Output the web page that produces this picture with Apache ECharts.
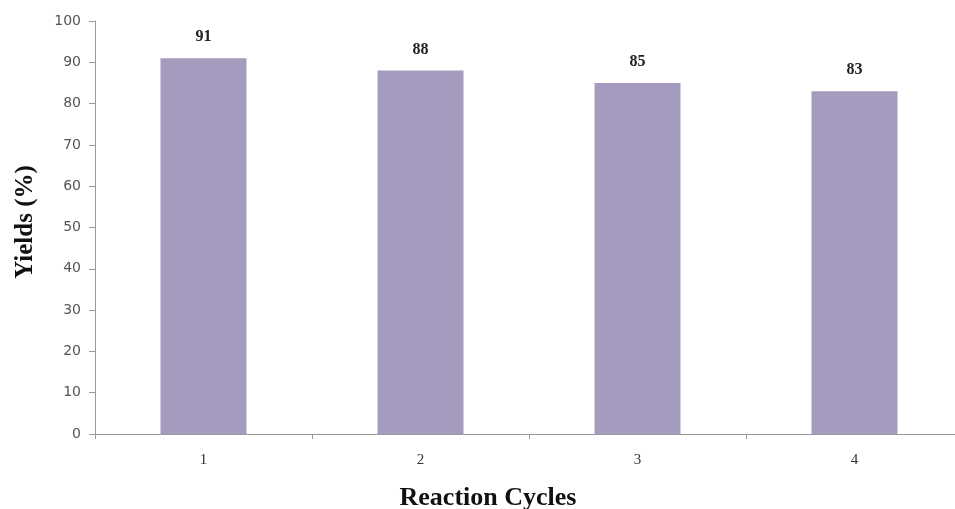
<!DOCTYPE html>
<html>
<head>
<meta charset="utf-8">
<script src="https://cdn.jsdelivr.net/npm/echarts@6/dist/echarts.min.js"></script>
<style>
  html, body { margin: 0; padding: 0; background: #fff; }
  #chart { width: 955px; height: 509px; }
</style>
</head>
<body>
<div id="chart"></div>
<script>
// Yield of the product over successive catalyst reuse cycles
const cycles = ['1', '2', '3', '4'];
const yields = [91, 88, 85, 83];
const yTicks = { min: 0, max: 100, interval: 10 };

const chart = echarts.init(document.getElementById('chart'));
chart.setOption({
  backgroundColor: '#ffffff',
  animation: false,
  grid: { left: 95, top: 21, right: -8, bottom: 75, containLabel: false, outerBoundsMode: 'none' },
  xAxis: {
    type: 'category',
    data: cycles,
    name: 'Reaction Cycles',
    nameLocation: 'middle',
    nameGap: 51,
    nameTextStyle: { fontFamily: 'Liberation Serif', fontWeight: 'bold', fontSize: 26, color: '#111', padding: [0, 0, 0, -82] },
    axisLine: { lineStyle: { color: '#9a9a9a', width: 1 } },
    axisTick: { show: true, length: 5, lineStyle: { color: '#9a9a9a' } },
    axisLabel: { fontFamily: 'Liberation Serif', fontSize: 15, color: '#333', margin: 19 }
  },
  yAxis: {
    type: 'value',
    min: yTicks.min,
    max: yTicks.max,
    interval: yTicks.interval,
    name: 'Yields (%)',
    nameLocation: 'middle',
    nameGap: 57,
    nameTextStyle: { fontFamily: 'Liberation Serif', fontWeight: 'bold', fontSize: 25, color: '#111', padding: [0, 0, 0, 11] },
    axisLine: { show: true, lineStyle: { color: '#9a9a9a', width: 1 } },
    axisTick: { show: true, length: 6, lineStyle: { color: '#9a9a9a' } },
    axisLabel: { fontFamily: 'DejaVu Sans', fontSize: 14, color: '#555', margin: 14 },
    splitLine: { show: false }
  },
  series: [{
    type: 'bar',
    data: yields,
    barWidth: 86,
    itemStyle: { color: '#A59BBF' },
    label: {
      show: true,
      position: 'top',
      distance: 13,
      fontFamily: 'Liberation Serif',
      fontWeight: 'bold',
      fontSize: 16,
      color: '#222'
    }
  }]
});
</script>
</body>
</html>
